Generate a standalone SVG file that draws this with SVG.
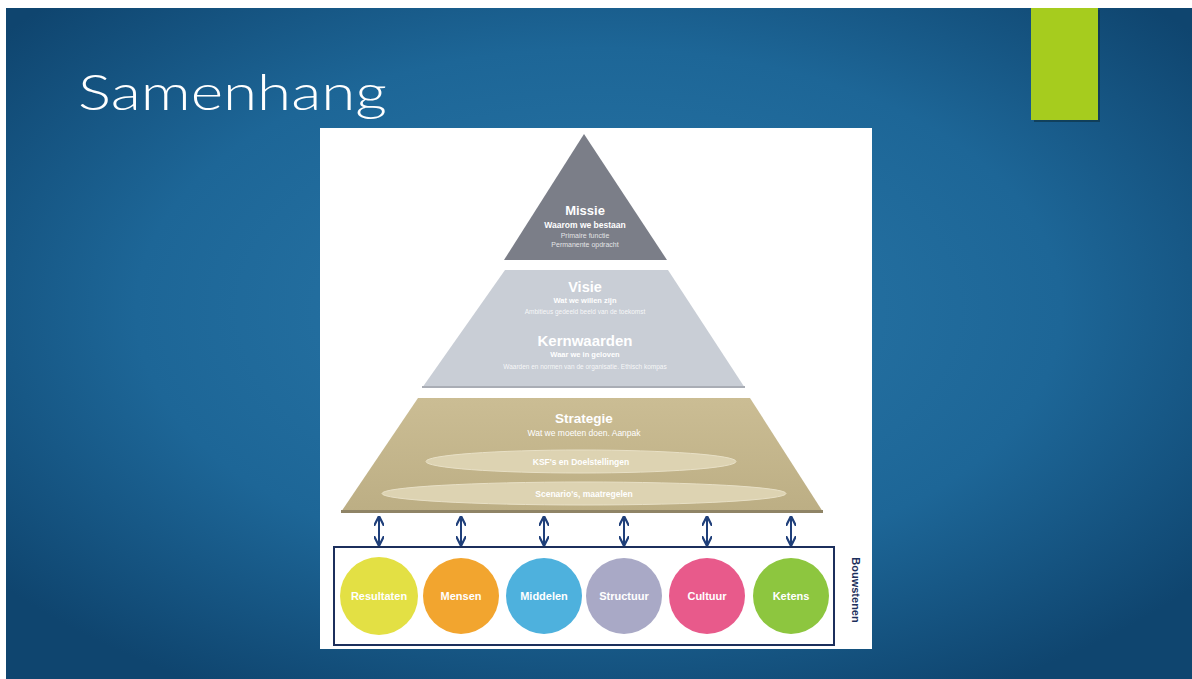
<svg xmlns="http://www.w3.org/2000/svg" width="1192" height="679" viewBox="0 0 1192 679">
<defs>
<radialGradient id="bg" cx="0.5" cy="0.45" r="0.65">
<stop offset="0" stop-color="#2a78a9"/>
<stop offset="0.6" stop-color="#1d6697"/>
<stop offset="1" stop-color="#0f456f"/>
</radialGradient>
<linearGradient id="strat" x1="0" y1="0" x2="0" y2="1">
<stop offset="0" stop-color="#cbbd94"/>
<stop offset="1" stop-color="#bcae84"/>
</linearGradient>
<marker id="ah" viewBox="0 0 10 10" refX="9" refY="5" markerWidth="5" markerHeight="5" orient="auto-start-reverse">
<path d="M0,0 L10,5 L0,10" fill="none" stroke="#1f3f7a" stroke-width="2.2"/>
</marker>
</defs>
<style>
.w{fill:#ffffff;font-family:"Liberation Sans",Arial,sans-serif;text-anchor:middle}
.h{font-weight:bold}
.lbl{fill:#ffffff;font-family:"Liberation Sans",Arial,sans-serif;font-weight:bold;font-size:11px;text-anchor:middle}
.arr{stroke:#1f3f7a;stroke-width:2;fill:none;marker-start:url(#ah);marker-end:url(#ah)}
</style>
<rect x="0" y="0" width="1192" height="679" fill="#ffffff"/>
<rect x="6" y="8" width="1186" height="671" fill="url(#bg)"/>
<rect x="1034" y="10" width="66" height="112" fill="#0b2e3f" opacity="0.6"/>
<rect id="accent" x="1031" y="8" width="67" height="112" fill="#a6cc1e"/>
<text id="title" x="78" y="110" font-family="Lato,'Liberation Sans',sans-serif" font-weight="300" font-size="50" fill="#ffffff" textLength="309" lengthAdjust="spacingAndGlyphs">Samenhang</text>
<rect id="panel" x="320" y="128" width="552" height="521" fill="#ffffff"/>
<g id="missie">
<polygon points="584,134 504,260 667,260" fill="#7b7e88"/>
<text class="w h" x="585" y="215" font-size="13">Missie</text>
<text class="w h" x="585" y="228" font-size="8.5">Waarom we  bestaan</text>
<text class="w" x="585" y="238" font-size="7" fill-opacity="0.8">Primaire functie</text>
<text class="w" x="585" y="247" font-size="7" fill-opacity="0.8">Permanente opdracht</text>
</g>
<g id="visie">
<polygon points="505,270 668,270 745,388 422,388" fill="#c9ced6"/>
<polygon points="422,386 745,386 745,388 422,388" fill="#a9adb5"/>
<text class="w h" x="585" y="292" font-size="14.5">Visie</text>
<text class="w h" x="585" y="303" font-size="7.5">Wat we willen zijn</text>
<text class="w" x="585" y="314" font-size="6.5" fill-opacity="0.85">Ambitieus gedeeld beeld van de toekomst</text>
<text class="w h" x="585" y="346" font-size="15">Kernwaarden</text>
<text class="w h" x="585" y="357" font-size="7.5">Waar we in geloven</text>
<text class="w" x="585" y="369" font-size="6.5" fill-opacity="0.85">Waarden en normen van de organisatie. Ethisch kompas</text>
</g>
<g id="strategie">
<polygon points="418,398 750,398 823,512 341,512" fill="url(#strat)"/>
<polygon points="341,510 823,510 823,513 341,513" fill="#8f8466"/>
<text class="w h" x="584" y="423" font-size="13.5">Strategie</text>
<text class="w" x="584" y="436" font-size="8.5">Wat we moeten doen. Aanpak</text>
</g>
<g id="ksf">
<ellipse cx="581" cy="461.5" rx="155" ry="11.5" fill="#ddd3b2" stroke="#e8e0c6" stroke-width="1"/>
<text class="w h" x="581" y="465" font-size="8.5">KSF's en Doelstellingen</text>
</g>
<g id="scenario">
<ellipse cx="584" cy="493.5" rx="202" ry="11.5" fill="#ddd3b2" stroke="#e8e0c6" stroke-width="1"/>
<text class="w h" x="584" y="497" font-size="8.5">Scenario's, maatregelen</text>
</g>
<g id="connectors">
<line class="arr" x1="379" y1="517" x2="379" y2="545"/>
<line class="arr" x1="461" y1="517" x2="461" y2="545"/>
<line class="arr" x1="544" y1="517" x2="544" y2="545"/>
<line class="arr" x1="624" y1="517" x2="624" y2="545"/>
<line class="arr" x1="707" y1="517" x2="707" y2="545"/>
<line class="arr" x1="791" y1="517" x2="791" y2="545"/>
</g>
<g id="bouwstenen">
<rect x="334" y="547" width="500" height="98" fill="none" stroke="#1c2f5c" stroke-width="2"/>
<text x="852" y="590" font-family="'Liberation Sans',Arial,sans-serif" font-weight="bold" font-size="11" fill="#1c2f5c" text-anchor="middle" transform="rotate(90 852 590)">Bouwstenen</text>
</g>
<g id="resultaten"><circle cx="379" cy="596" r="39" fill="#e3e044"/><text class="lbl" x="379" y="600">Resultaten</text></g>
<g id="mensen"><circle cx="461" cy="596" r="38" fill="#f2a52f"/><text class="lbl" x="461" y="600">Mensen</text></g>
<g id="middelen"><circle cx="544" cy="596" r="38" fill="#4eb1dd"/><text class="lbl" x="544" y="600">Middelen</text></g>
<g id="structuur"><circle cx="624" cy="596" r="38" fill="#a9a9c6"/><text class="lbl" x="624" y="600">Structuur</text></g>
<g id="cultuur"><circle cx="707" cy="596" r="38" fill="#e85a8b"/><text class="lbl" x="707" y="600">Cultuur</text></g>
<g id="ketens"><circle cx="791" cy="596" r="38" fill="#8dc63f"/><text class="lbl" x="791" y="600">Ketens</text></g>
</svg>
